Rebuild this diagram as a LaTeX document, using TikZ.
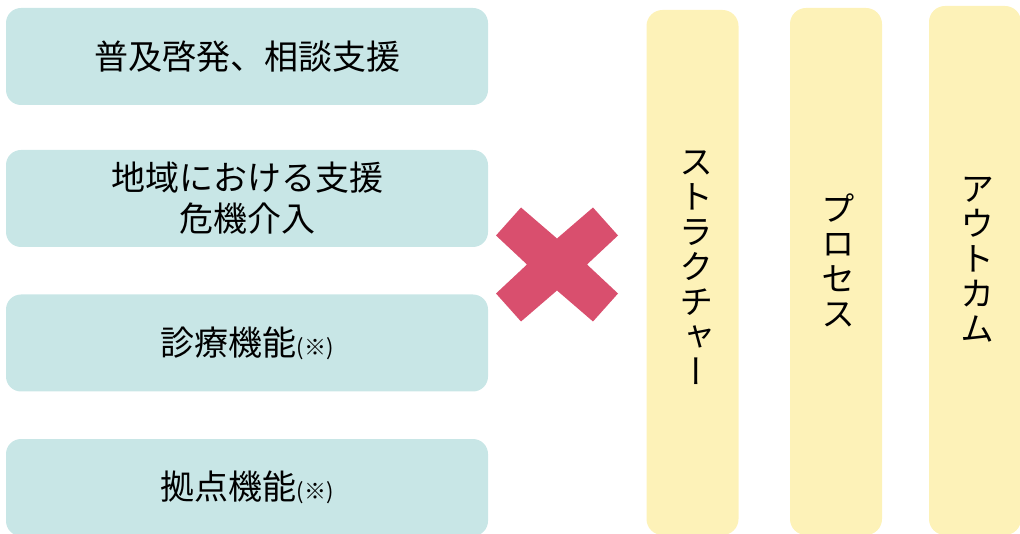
\documentclass[tikz,border=0pt]{standalone}
\usepackage{fontspec}
\usepackage{xcolor}
\newfontfamily\jp{Noto Sans CJK JP}
\newfontfamily\jpv[RawFeature=+vert]{Noto Sans CJK JP}
\definecolor{boxteal}{HTML}{C8E6E6}
\definecolor{boxyellow}{HTML}{FDF2B8}
\definecolor{crossred}{HTML}{D94F6E}

\begin{document}
\begin{tikzpicture}[x=1pt,y=-1pt,
    lbox/.style={fill=boxteal, rounded corners=15pt, minimum width=482pt, minimum height=97pt,
                 inner sep=0pt, align=center, text=black, font=\jp\fontsize{34}{41}\selectfont},
    rbox/.style={fill=boxyellow, rounded corners=16pt, minimum width=92pt, inner sep=0pt},
    vtext/.style={align=center, inner sep=0pt, text=black, font=\jpv\fontsize{34}{35}\selectfont}]
    \clip (0,0) rectangle (1020,534);

    \node[lbox] (L1) at (247,56.5) {普及啓発、相談支援};
    \node[lbox] (L2) at (247,198.5) {地域における支援\\危機介入};
    \node[lbox] (L3) at (247,343) {診療機能{\fontsize{22}{22}\selectfont(※)}};
    \node[lbox] (L4) at (247,487.5) {拠点機能{\fontsize{22}{22}\selectfont(※)}};

    \node[rbox, minimum height=525pt] (R1) at (692.5,272.5) {};
    \node[rbox, minimum height=527pt] (R2) at (836,271.5) {};
    \node[rbox, minimum height=529pt] (R3) at (975,270.5) {};

    \node[vtext] (S1) at (696,267.5) {ス\\ト\\ラ\\ク\\チ\\ャ\\ー};
    \node[vtext] (S2) at (838,260.5) {プ\\ロ\\セ\\ス};
    \node[vtext] (S3) at (977,260) {ア\\ウ\\ト\\カ\\ム};

    \fill[crossred, shift={(557,264.5)}] (-36,-57) -- (0,-26) -- (36,-57) -- (61,-29) -- (30,0)
        -- (61,29) -- (36,57) -- (0,26) -- (-36,57) -- (-61,29) -- (-30,0) -- (-61,-29) -- cycle;
\end{tikzpicture}
\end{document}
